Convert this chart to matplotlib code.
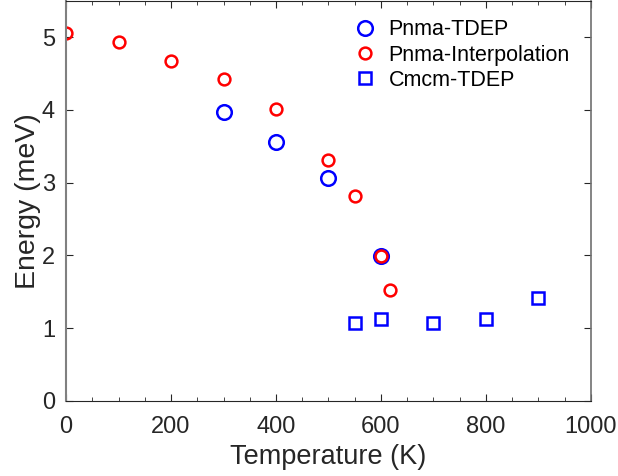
import numpy as np
import matplotlib.pyplot as plt
from matplotlib.ticker import MultipleLocator

# data
t_tdep = [300, 400, 500, 600]
e_tdep = [3.97, 3.56, 3.06, 1.99]
t_interp = [0, 100, 200, 300, 400, 500, 550, 600, 617]
e_interp = [5.06, 4.93, 4.68, 4.43, 4.02, 3.31, 2.82, 1.99, 1.53]
t_cmcm = [550, 600, 700, 800, 900]
e_cmcm = [1.07, 1.12, 1.07, 1.12, 1.41]

plt.rcParams['font.family'] = ['Liberation Sans', 'DejaVu Sans']

fig = plt.figure(figsize=(6.18, 4.76), dpi=100)
ax = fig.add_axes([0.107, 0.158, 0.849, 0.840])

ax.plot(t_tdep, e_tdep, 'o', ms=10.5, mfc='none', mec='#0000ff', mew=1.8, label='Pnma-TDEP')
ax.plot(t_interp, e_interp, 'o', ms=8.5, mfc='none', mec='#ff0000', mew=1.8, label='Pnma-Interpolation')
ax.plot(t_cmcm, e_cmcm, 's', ms=8, mfc='none', mec='#0000ff', mew=1.8, label='Cmcm-TDEP')

ax.set_xlim(0, 1000)
ax.set_ylim(0, 5.5)
ax.xaxis.set_major_locator(MultipleLocator(200))
ax.xaxis.set_minor_locator(MultipleLocator(50))
ax.yaxis.set_major_locator(MultipleLocator(1))
ax.tick_params(which='both', direction='in', top=True, right=True, colors='#262626', labelsize=17)
ax.tick_params(which='major', length=5)
ax.tick_params(which='minor', length=3)
ax.tick_params(axis='x', pad=11)
ax.tick_params(axis='y', pad=8)
for s in ax.spines.values():
    s.set_color('#262626')
    s.set_linewidth(0.8)
ax.spines['left'].set_color('#808080')
ax.spines['left'].set_linewidth(1.5)
ax.spines['right'].set_color('#707070')
ax.spines['right'].set_linewidth(1.2)

ax.set_xlabel('Temperature (K)', fontsize=19.5, color='#262626', labelpad=4)
ax.set_ylabel('Energy (meV)', fontsize=20.5, color='#262626', labelpad=1)

leg = ax.legend(loc='upper right', bbox_to_anchor=(0.995, 1.0), frameon=False, fontsize=15.5,
                handletextpad=0.5, labelspacing=0.2, handlelength=1.2, borderaxespad=0.45)

plt.savefig('out.png', dpi=100)
